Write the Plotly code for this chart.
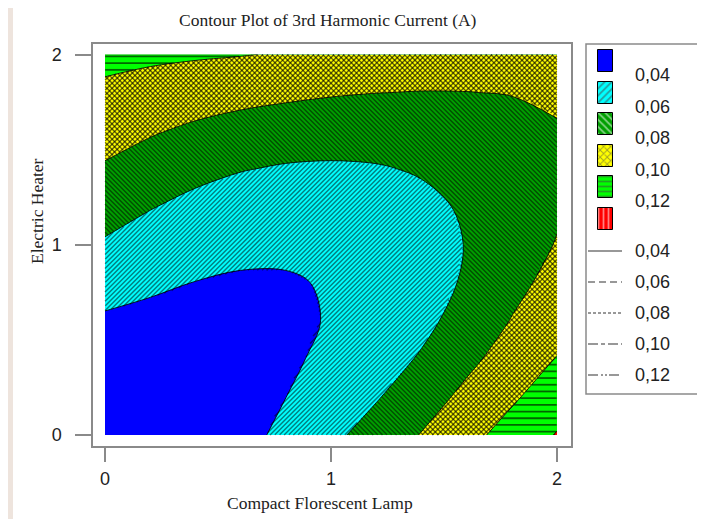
import numpy as np
import plotly.graph_objects as go

# ---------------- data ----------------
cfl = [0.0, 0.2, 0.4, 0.6, 0.8, 1.0, 1.2, 1.4, 1.6, 1.8, 2.0]      # Compact Florescent Lamp
heater = [0.0, 0.2, 0.4, 0.6, 0.8, 1.0, 1.2, 1.4, 1.6, 1.8, 2.0]   # Electric Heater
# 3rd harmonic current (A); rows = Electric Heater, columns = Compact Florescent Lamp
current = [
    [0.0167, 0.0213, 0.0270, 0.0345, 0.0440, 0.0558, 0.0678, 0.0808, 0.0942, 0.1073, 0.1211],
    [0.0225, 0.0253, 0.0287, 0.0335, 0.0399, 0.0486, 0.0586, 0.0710, 0.0847, 0.0974, 0.1103],
    [0.0293, 0.0298, 0.0310, 0.0334, 0.0374, 0.0434, 0.0513, 0.0618, 0.0754, 0.0885, 0.1007],
    [0.0375, 0.0355, 0.0346, 0.0349, 0.0370, 0.0409, 0.0468, 0.0552, 0.0673, 0.0808, 0.0931],
    [0.0471, 0.0428, 0.0397, 0.0382, 0.0387, 0.0411, 0.0454, 0.0522, 0.0621, 0.0745, 0.0864],
    [0.0579, 0.0515, 0.0466, 0.0437, 0.0427, 0.0439, 0.0471, 0.0526, 0.0606, 0.0707, 0.0809],
    [0.0680, 0.0609, 0.0551, 0.0512, 0.0493, 0.0494, 0.0516, 0.0558, 0.0621, 0.0697, 0.0778],
    [0.0781, 0.0713, 0.0652, 0.0609, 0.0584, 0.0577, 0.0587, 0.0616, 0.0660, 0.0714, 0.0773],
    [0.0873, 0.0819, 0.0768, 0.0727, 0.0700, 0.0687, 0.0687, 0.0699, 0.0722, 0.0753, 0.0790],
    [0.0962, 0.0925, 0.0892, 0.0862, 0.0837, 0.0815, 0.0802, 0.0796, 0.0798, 0.0805, 0.0821],
    [0.1054, 0.1035, 0.1020, 0.1007, 0.0987, 0.0952, 0.0919, 0.0894, 0.0876, 0.0865, 0.0863],
]
levels = [0.04, 0.06, 0.08, 0.10, 0.12]
level_labels = ["0,04", "0,06", "0,08", "0,10", "0,12"]
tick_vals = [0, 1, 2]

# ---------------- styling ----------------
OFF = 8.0                      # the page body has an 8px margin
W, H = 705 - 8, 519 - 8        # figure size that fits in the window


def px_x(p):                   # window pixel -> paper fraction
    return (p - OFF) / W


def px_y(p):
    return 1 - (p - OFF) / H


band_colors = ["#0000ff", "#00ffff", "#009f00", "#ffff00", "#00ff00", "#ff0000"]
band_patterns = ["", "/", "\\", "x", "-", "|"]
SERIF = "Liberation Serif, Times New Roman, serif"
SANS = "Liberation Sans, Arial, sans-serif"
FRAME = "#8a8a8a"

x0px, x2px = 105.0, 557.0     # window pixel positions of data 0 and 2
y0px, y2px = 435.0, 54.5
SX = (x2px - x0px) / 2.0
SY = (y0px - y2px) / 2.0
fl, fr, ft, fb = 93.0, 571.0, 44.0, 446.0   # frame
xr = [-(x0px - fl) / SX, 2 + (fr - x2px) / SX]
yr = [-(fb - y0px) / SY, 2 + (y2px - ft) / SY]

Z = np.array(current)
gx = np.array(cfl)
gy = np.array(heater)


def zf(x, y):
    hx = gx[1] - gx[0]
    hy = gy[1] - gy[0]
    fx = (x - gx[0]) / hx
    fy = (y - gy[0]) / hy
    i = np.clip(np.floor(fx).astype(int), 0, len(gx) - 2)
    j = np.clip(np.floor(fy).astype(int), 0, len(gy) - 2)
    tx = fx - i
    ty = fy - j
    return (Z[j, i] * (1 - tx) * (1 - ty) + Z[j, i + 1] * tx * (1 - ty)
            + Z[j + 1, i] * (1 - tx) * ty + Z[j + 1, i + 1] * tx * ty)


def hatch(lo, hi, angle_deg, spacing):
    """Hatch segments (data coords) for the band lo <= z < hi."""
    Wd, Hd = gx[-1] * SX, gy[-1] * SY
    a = np.deg2rad(angle_deg)
    d = np.array([np.cos(a), np.sin(a)])
    nrm = np.array([-d[1], d[0]])
    corners = np.array([[0, 0], [Wd, 0], [0, Hd], [Wd, Hd]])
    proj = corners @ nrm
    L = np.hypot(Wd, Hd)
    t = np.arange(-L, L, 0.5)
    xs, ys = [], []
    for c in np.arange(proj.min() + spacing / 2, proj.max(), spacing):
        u = c * nrm[0] + t * d[0]
        v = c * nrm[1] + t * d[1]
        inside = (u >= 0) & (u <= Wd) & (v >= 0) & (v <= Hd)
        x = np.clip(u / SX, 0, gx[-1])
        y = np.clip(v / SY, 0, gy[-1])
        z = zf(x, y)
        m = inside & (z >= lo) & (z < hi)
        if not m.any():
            continue
        mm = np.concatenate([[False], m, [False]]).astype(int)
        dd = np.diff(mm)
        st = np.where(dd == 1)[0]
        en = np.where(dd == -1)[0] - 1
        for s_, e_ in zip(st, en):
            if e_ - s_ < 1:
                continue
            xs += [x[s_], x[e_], None]
            ys += [y[s_], y[e_], None]
    return xs, ys


fig = go.Figure()

fig.add_trace(go.Contour(
    x=cfl, y=heater, z=current,
    contours=dict(start=levels[0], end=levels[-1], size=levels[1] - levels[0],
                  coloring="fill", showlines=True),
    colorscale=[[k / 5, c] for k, c in enumerate(band_colors)],
    showscale=False, hoverinfo="skip",
    line=dict(color="rgba(0,0,0,0.85)", width=1, smoothing=1),
))

bounds = [-1.0] + levels + [1.0]
hatch_specs = {
    1: [(45, 3.3, 1.45, "rgba(0,0,0,0.5)")],
    2: [(-45, 3.3, 1.45, "rgba(0,0,0,0.5)")],
    3: [(45, 3.6, 1.4, "rgba(0,0,0,0.6)"), (-45, 3.6, 1.4, "rgba(0,0,0,0.6)")],
    4: [(0, 6.7, 1.8, "rgba(0,0,0,0.6)")],
    5: [(90, 5.0, 1.5, "rgba(0,0,0,0.6)")],
}
for k, specs in hatch_specs.items():
    for ang, sp, lw, col in specs:
        hx_, hy_ = hatch(bounds[k], bounds[k + 1], ang, sp)
        if hx_:
            fig.add_trace(go.Scatter(x=hx_, y=hy_, mode="lines", hoverinfo="skip",
                                     line=dict(color=col, width=lw), showlegend=False))

# ---------------- legend (drawn on its own window-pixel axes) ----------------
lg_l, lg_r, lg_t, lg_b = 586.0, 701.0, 44.0, 394.0
sw_top0, sw_pitch, sw_h, sw_w, sw_x = 50.0, 31.6, 22.0, 15.0, 605.5
sw_tops = [sw_top0 + k * sw_pitch for k in range(len(band_colors))]
fig.add_trace(go.Bar(
    x=[sw_x] * len(band_colors), y=[sw_h] * len(band_colors), base=sw_tops,
    width=sw_w, xaxis="x2", yaxis="y2", hoverinfo="skip", showlegend=False,
    marker=dict(color=band_colors, line=dict(color="black", width=1),
                pattern=dict(shape=band_patterns, fgcolor="black", size=5, solidity=0.35)),
))
line_dashes = ["solid", "7px,4px", "3px,2px", "10px,3px,4px,3px", "10px,3px,2px,2px,2px,2px"]
line_y0, line_pitch = 251.0, 31.0
annotations = []
for k, lab in enumerate(level_labels):
    yy = line_y0 + k * line_pitch
    fig.add_trace(go.Scatter(x=[588, 622], y=[yy, yy], mode="lines", xaxis="x2", yaxis="y2",
                             hoverinfo="skip", showlegend=False,
                             line=dict(color="#333333", width=1.2, dash=line_dashes[k])))
    annotations.append(dict(x=633, y=yy, xref="x2", yref="y2", text=lab, showarrow=False,
                            xanchor="left", yanchor="middle", font=dict(family=SANS, size=18, color="#222")))
    annotations.append(dict(x=633, y=sw_tops[k] + 25, xref="x2", yref="y2", text=lab, showarrow=False,
                            xanchor="left", yanchor="middle", font=dict(family=SANS, size=18, color="#222")))

annotations += [
    dict(x=px_x(328), y=px_y(20), xref="paper", yref="paper", showarrow=False,
         text="Contour Plot of 3rd Harmonic Current (A)", xanchor="center", yanchor="middle",
         font=dict(family=SERIF, size=17.5, color="#222")),
    dict(x=px_x(320), y=px_y(503), xref="paper", yref="paper", showarrow=False,
         text="Compact Florescent Lamp", xanchor="center", yanchor="middle",
         font=dict(family=SERIF, size=17.5, color="#222")),
    dict(x=px_x(37), y=px_y(211), xref="paper", yref="paper", showarrow=False, textangle=-90,
         text="Electric Heater", xanchor="center", yanchor="middle",
         font=dict(family=SERIF, size=17.5, color="#222")),
]

shapes = [
    dict(type="rect", xref="paper", yref="paper", x0=px_x(13), x1=1, y0=0, y1=1,
         fillcolor="white", line=dict(width=0), layer="below"),
    dict(type="rect", xref="paper", yref="paper", x0=px_x(lg_l), x1=px_x(lg_r),
         y0=px_y(lg_b), y1=px_y(lg_t), line=dict(color=FRAME, width=1.5)),
]

axis_common = dict(showgrid=False, zeroline=False, showline=True, linecolor=FRAME, linewidth=1.5,
                   mirror=True, ticks="outside", tickcolor=FRAME, tickwidth=1.5,
                   tickfont=dict(family=SANS, size=18, color="#222"), automargin=False,
                   tickvals=tick_vals, ticktext=[str(v) for v in tick_vals])

fig.update_layout(
    width=W, height=H, margin=dict(l=0, r=0, t=0, b=0),
    paper_bgcolor="#eee4dd", plot_bgcolor="white", showlegend=False,
    xaxis=dict(domain=[px_x(fl), px_x(fr)], range=xr, ticklen=14, ticklabelstandoff=2, **axis_common),
    yaxis=dict(domain=[px_y(fb), px_y(ft)], range=yr, ticklen=16, ticklabelstandoff=10, **axis_common),
    xaxis2=dict(domain=[px_x(lg_l), px_x(lg_r)], range=[lg_l, lg_r], visible=False, fixedrange=True),
    yaxis2=dict(domain=[px_y(lg_b), px_y(lg_t)], range=[lg_b, lg_t], visible=False, fixedrange=True),
    annotations=annotations, shapes=shapes, bargap=0,
)

fig.write_html("out.html")
